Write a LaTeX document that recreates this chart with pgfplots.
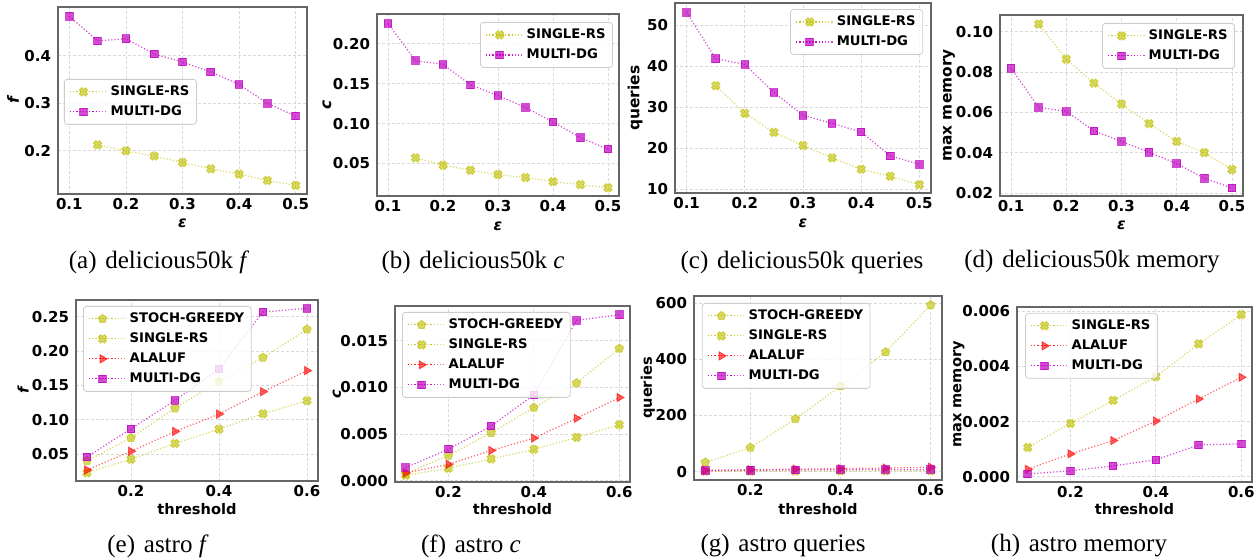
\documentclass[border=0pt]{standalone}
\usepackage{fontspec}
\setmainfont{Liberation Serif}
\setsansfont{DejaVu Sans}
\usepackage{pgfplots}
\pgfplotsset{compat=1.18}
\definecolor{cy}{RGB}{191,191,0}
\definecolor{cm}{RGB}{191,0,191}
\definecolor{cr}{RGB}{255,0,0}
\newcommand\tickfont{\sffamily\bfseries\fontsize{7.5}{8}\selectfont}
\newcommand\labfont{\sffamily\bfseries\fontsize{7.3}{8}\selectfont}
\newcommand\labfonttop{\sffamily\bfseries\fontsize{7.7}{8}\selectfont}
\newcommand\legfont{\sffamily\bfseries\fontsize{6.6}{7}\selectfont}
\newcommand\capfont{\fontsize{12.5}{14}\selectfont}
\pgfdeclareplotmark{Xf}{%
  \pgfpathmoveto{\pgfqpoint{-0.424\pgfplotmarksize}{0.990\pgfplotmarksize}}%
  \pgfpathlineto{\pgfqpoint{0pt}{0.566\pgfplotmarksize}}%
  \pgfpathlineto{\pgfqpoint{0.424\pgfplotmarksize}{0.990\pgfplotmarksize}}%
  \pgfpathlineto{\pgfqpoint{0.990\pgfplotmarksize}{0.424\pgfplotmarksize}}%
  \pgfpathlineto{\pgfqpoint{0.566\pgfplotmarksize}{0pt}}%
  \pgfpathlineto{\pgfqpoint{0.990\pgfplotmarksize}{-0.424\pgfplotmarksize}}%
  \pgfpathlineto{\pgfqpoint{0.424\pgfplotmarksize}{-0.990\pgfplotmarksize}}%
  \pgfpathlineto{\pgfqpoint{0pt}{-0.566\pgfplotmarksize}}%
  \pgfpathlineto{\pgfqpoint{-0.424\pgfplotmarksize}{-0.990\pgfplotmarksize}}%
  \pgfpathlineto{\pgfqpoint{-0.990\pgfplotmarksize}{-0.424\pgfplotmarksize}}%
  \pgfpathlineto{\pgfqpoint{-0.566\pgfplotmarksize}{0pt}}%
  \pgfpathlineto{\pgfqpoint{-0.990\pgfplotmarksize}{0.424\pgfplotmarksize}}%
  \pgfpathclose
  \pgfusepathqfillstroke
}
\pgfplotsset{
  dl/.style={line width=0.6pt, dash pattern=on 0.6pt off 1pt},
  sg/.style={dl, color=cy, draw opacity=0.6, mark=pentagon*, mark size=2.2pt,
    mark options={solid, fill=cy, draw=cy, fill opacity=0.6, draw opacity=0.6, line width=0.5pt}},
  srs/.style={dl, color=cy, draw opacity=0.6, mark=Xf, mark size=2.1pt,
    mark options={solid, fill=cy, draw=cy, fill opacity=0.6, draw opacity=0.6, line width=0.5pt}},
  al/.style={dl, color=cr, draw opacity=0.6, mark=triangle*, mark size=2.3pt,
    mark options={solid, rotate=-90, fill=cr, draw=cr, fill opacity=0.6, draw opacity=0.6, line width=0.5pt}},
  mdg/.style={dl, color=cm, draw opacity=0.7, mark=square*, mark size=1.9pt,
    mark options={solid, fill=cm, draw=cm, fill opacity=0.7, draw opacity=0.7, line width=0.5pt}},
  lab/.style 2 args={xlabel style={at={(axis description cs:0.5,-#1)}},
    ylabel style={at={(axis description cs:-#2,0.5)}}},
  panel/.style={scale only axis, anchor=north west, clip=false,
    axis line style={black!60, line width=0.6pt},
    major tick length=0pt,
    grid=major, major grid style={black!15, line width=0.4pt, dash pattern=on 1.5pt off 1pt},
    tick label style={font=\tickfont},
    every axis x label/.style={anchor=center, font=\labfont},
    every axis y label/.style={rotate=90, anchor=center, font=\labfont},
    xticklabel style={yshift=1.5pt},
    scaled ticks=false,
    legend cell align=left,
    legend style={font=\legfont, draw=black!20, rounded corners=1.5pt, fill=white,
      fill opacity=0.8, draw opacity=1, text opacity=1,
      inner xsep=2.5pt, inner ysep=2pt, row sep=1.5pt,
      nodes={inner sep=1pt, text height=5pt, text depth=1.5pt}},
    legend image code/.code={%
      \draw[mark repeat=2, mark phase=2, ##1] plot coordinates {(0pt,0pt) (6.75pt,0pt) (13.5pt,0pt)};
      \path (0pt,0pt) -- (19pt,0pt);},
  },
  toprow/.style={panel, xmin=0.08, xmax=0.52, xtick={0.1,0.2,0.3,0.4,0.5},
    every axis x label/.append style={font=\labfonttop},
    every axis y label/.append style={font=\labfonttop},
    xticklabel style={/pgf/number format/.cd, fixed, fixed zerofill, precision=1, assume math mode=true},
    xlabel={\itshape ε}},
  botrow/.style={panel, xmin=0.075, xmax=0.625, xtick={0.2,0.4,0.6},
    xticklabel style={/pgf/number format/.cd, fixed, fixed zerofill, precision=1, assume math mode=true},
    xlabel={threshold}},
}
\begin{document}
\begin{tikzpicture}
\useasboundingbox (0,0) rectangle (629pt,-280pt);
% (a)
\begin{axis}[toprow, at={(29pt,-3.5pt)}, width=124.5pt, height=93.5pt, lab={0.155}{0.181},
  ymin=0.109, ymax=0.503, ytick={0.2,0.3,0.4},
  yticklabel style={/pgf/number format/.cd, fixed, fixed zerofill, precision=1, assume math mode=true},
  ylabel={\itshape f},
  legend style={at={(0.024,0.615)}, anchor=north west}]
\addplot[srs] coordinates {(0.15,0.2126)(0.2,0.200)(0.25,0.189)(0.3,0.1755)(0.35,0.162)(0.4,0.151)(0.45,0.1375)(0.5,0.127)};
\addplot[mdg] coordinates {(0.1,0.4835)(0.15,0.4316)(0.2,0.436)(0.25,0.404)(0.3,0.387)(0.35,0.366)(0.4,0.340)(0.45,0.300)(0.5,0.273)};
\legend{SINGLE-RS,MULTI-DG}
\end{axis}
% (b)
\begin{axis}[toprow, at={(188.5pt,-7pt)}, width=121pt, height=91pt, lab={0.165}{0.207},
  ymin=0.0094, ymax=0.237, ytick={0.05,0.10,0.15,0.20},
  yticklabel style={/pgf/number format/.cd, fixed, fixed zerofill, precision=2, assume math mode=true},
  ylabel={\itshape c},
  legend style={at={(0.975,0.956)}, anchor=north east}]
\addplot[srs] coordinates {(0.15,0.0571)(0.2,0.0479)(0.25,0.0416)(0.3,0.0362)(0.35,0.0324)(0.4,0.0274)(0.45,0.0236)(0.5,0.0198)};
\addplot[mdg] coordinates {(0.1,0.2251)(0.15,0.1786)(0.2,0.174)(0.25,0.1484)(0.3,0.135)(0.35,0.120)(0.4,0.102)(0.45,0.0822)(0.5,0.068)};
\legend{SINGLE-RS,MULTI-DG}
\end{axis}
% (c)
\begin{axis}[toprow, at={(337.5pt,-1.5pt)}, width=128pt, height=95pt, lab={0.158}{0.156},
  ymin=9.0, ymax=55.5, ytick={10,20,30,40,50},
  yticklabel style={/pgf/number format/.cd, fixed, precision=0, assume math mode=true},
  ylabel={queries},
  legend style={at={(0.969,0.968)}, anchor=north east}]
\addplot[srs] coordinates {(0.15,35.25)(0.2,28.5)(0.25,23.85)(0.3,20.6)(0.35,17.6)(0.4,14.8)(0.45,13.1)(0.5,11.06)};
\addplot[mdg] coordinates {(0.1,53.18)(0.15,41.85)(0.2,40.47)(0.25,33.6)(0.3,28.0)(0.35,26.05)(0.4,23.9)(0.45,18.1)(0.5,16.0)};
\legend{SINGLE-RS,MULTI-DG}
\end{axis}
% (d)
\begin{axis}[toprow, at={(500pt,-7.5pt)}, width=121.5pt, height=90.5pt, lab={0.160}{0.210},
  ymin=0.0185, ymax=0.1083, ytick={0.02,0.04,0.06,0.08,0.10},
  yticklabel style={/pgf/number format/.cd, fixed, fixed zerofill, precision=2, assume math mode=true},
  ylabel={max memory},
  legend style={at={(0.967,0.956)}, anchor=north east}]
\addplot[srs] coordinates {(0.15,0.1038)(0.2,0.0864)(0.25,0.0745)(0.3,0.0641)(0.35,0.0544)(0.4,0.0456)(0.45,0.040)(0.5,0.0316)};
\addplot[mdg] coordinates {(0.1,0.0819)(0.15,0.0625)(0.2,0.0605)(0.25,0.0508)(0.3,0.0456)(0.35,0.0402)(0.4,0.0346)(0.45,0.0273)(0.5,0.0225)};
\legend{SINGLE-RS,MULTI-DG}
\end{axis}
% (e)
\begin{axis}[botrow, at={(38pt,-150pt)}, width=121pt, height=90.5pt, lab={0.155}{0.219},
  ymin=0.0111, ymax=0.2743, ytick={0.05,0.10,0.15,0.20,0.25},
  yticklabel style={/pgf/number format/.cd, fixed, fixed zerofill, precision=2, assume math mode=true},
  ylabel={\itshape f},
  legend style={at={(0.029,0.967)}, anchor=north west}]
\addplot[sg] coordinates {(0.1,0.0403)(0.2,0.0738)(0.3,0.1169)(0.4,0.156)(0.5,0.1906)(0.6,0.2315)};
\addplot[srs] coordinates {(0.1,0.0232)(0.2,0.0427)(0.3,0.0656)(0.4,0.0865)(0.5,0.1089)(0.6,0.1279)};
\addplot[al] coordinates {(0.1,0.0271)(0.2,0.0544)(0.3,0.0831)(0.4,0.1084)(0.5,0.141)(0.6,0.1716)};
\addplot[mdg] coordinates {(0.1,0.0461)(0.2,0.087)(0.3,0.1283)(0.4,0.174)(0.5,0.2568)(0.6,0.2622)};
\legend{STOCH-GREEDY,SINGLE-RS,ALALUF,MULTI-DG}
\end{axis}
% (f)
\begin{axis}[botrow, at={(197.5pt,-153pt)}, width=117.5pt, height=88pt, lab={0.153}{0.247},
  ymin=-0.00014, ymax=0.01874, ytick={0,0.005,0.010,0.015},
  yticklabel style={/pgf/number format/.cd, fixed, fixed zerofill, precision=3, assume math mode=true},
  ylabel={\itshape c},
  legend style={at={(0.03,0.966)}, anchor=north west}]
\addplot[sg] coordinates {(0.1,0.00076)(0.2,0.0027)(0.3,0.00514)(0.4,0.00784)(0.5,0.01047)(0.6,0.01417)};
\addplot[srs] coordinates {(0.1,0.00058)(0.2,0.00133)(0.3,0.00234)(0.4,0.00335)(0.5,0.00464)(0.6,0.0060)};
\addplot[al] coordinates {(0.1,0.00083)(0.2,0.00176)(0.3,0.00324)(0.4,0.00457)(0.5,0.00669)(0.6,0.00892)};
\addplot[mdg] coordinates {(0.1,0.0014)(0.2,0.00338)(0.3,0.00586)(0.4,0.00921)(0.5,0.0172)(0.6,0.0178)};
\legend{STOCH-GREEDY,SINGLE-RS,ALALUF,MULTI-DG}
\end{axis}
% (g)
\begin{axis}[botrow, at={(347pt,-148pt)}, width=124pt, height=92pt, lab={0.158}{0.186},
  ymin=-29.7, ymax=626, ytick={0,200,400,600},
  yticklabel style={/pgf/number format/.cd, fixed, precision=0, assume math mode=true},
  ylabel={queries},
  legend style={at={(0.032,0.962)}, anchor=north west}]
\addplot[sg] coordinates {(0.1,33)(0.2,85.5)(0.3,188)(0.4,305)(0.5,426)(0.6,594)};
\addplot[srs] coordinates {(0.1,1)(0.2,1.5)(0.3,2)(0.4,2.5)(0.5,3)(0.6,3.5)};
\addplot[al] coordinates {(0.1,5)(0.2,7)(0.3,9)(0.4,11)(0.5,13)(0.6,16)};
\addplot[mdg] coordinates {(0.1,4)(0.2,5)(0.3,6)(0.4,7)(0.5,7.5)(0.6,8)};
\legend{STOCH-GREEDY,SINGLE-RS,ALALUF,MULTI-DG}
\end{axis}
% (h)
\begin{axis}[botrow, at={(508.5pt,-153.5pt)}, width=117.5pt, height=87.5pt, lab={0.154}{0.247},
  ymin=-0.000194, ymax=0.00616, ytick={0,0.002,0.004,0.006},
  yticklabel style={/pgf/number format/.cd, fixed, fixed zerofill, precision=3, assume math mode=true},
  ylabel={max memory},
  legend style={at={(0.034,0.966)}, anchor=north west}]
\addplot[srs] coordinates {(0.1,0.00106)(0.2,0.00193)(0.3,0.00277)(0.4,0.00363)(0.5,0.00482)(0.6,0.00588)};
\addplot[al] coordinates {(0.1,0.000267)(0.2,0.000826)(0.3,0.00131)(0.4,0.00202)(0.5,0.00282)(0.6,0.00361)};
\addplot[mdg] coordinates {(0.1,0.0001)(0.2,0.00021)(0.3,0.00039)(0.4,0.00061)(0.5,0.00115)(0.6,0.00119)};
\legend{SINGLE-RS,ALALUF,MULTI-DG}
\end{axis}
% captions
\node[font=\capfont] at (79.5pt,-131pt) {(a)\hspace{0.35em}delicious50k \textit{f}};
\node[font=\capfont] at (236.5pt,-131pt) {(b)\hspace{0.35em}delicious50k \textit{c}};
\node[font=\capfont] at (401pt,-131pt) {(c)\hspace{0.35em}delicious50k queries};
\node[font=\capfont] at (546pt,-131pt) {(d)\hspace{0.35em}delicious50k memory};
\node[font=\capfont] at (79pt,-273pt) {(e)\hspace{0.35em}astro \textit{f}};
\node[font=\capfont] at (235.5pt,-273pt) {(f)\hspace{0.35em}astro \textit{c}};
\node[font=\capfont] at (391.5pt,-273pt) {(g)\hspace{0.35em}astro queries};
\node[font=\capfont] at (539.5pt,-273pt) {(h)\hspace{0.35em}astro memory};
\end{tikzpicture}
\end{document}
